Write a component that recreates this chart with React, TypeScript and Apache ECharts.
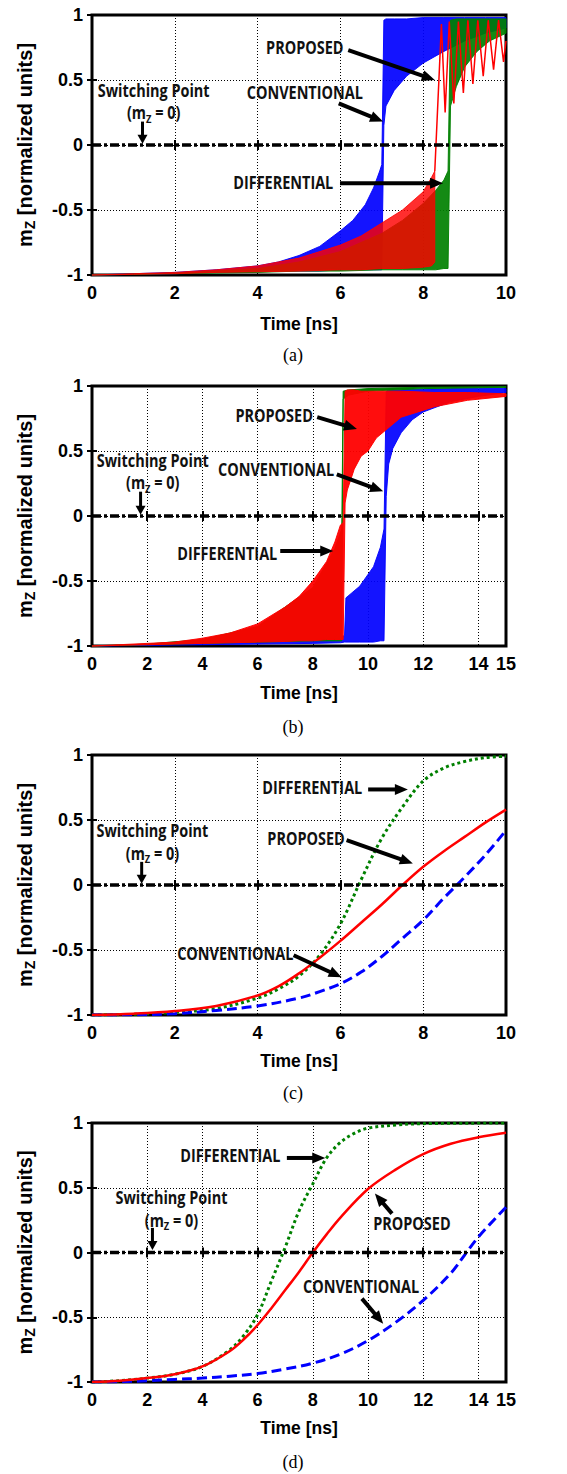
import React, { useEffect, useRef } from 'react';
import * as echarts from 'echarts';

// ---------- axes ----------
const X_MAX = [10, 15, 10, 15];
const X_INTERVAL = 2;
const Y_MIN = -1;
const Y_MAX = 1;
const Y_INTERVAL = 0.5;
const CAPTIONS = ['(a)', '(b)', '(c)', '(d)'];

// ---------- panel (a): oscillating traces, bands as [t, low envelope, high envelope] ----------
const BLUE_A: number[][] = [
  [0, -1, -1], [1, -0.995, -0.99], [2, -0.99, -0.98], [3, -0.98, -0.96], [4, -0.975, -0.93],
  [4.5, -0.97, -0.9], [5, -0.97, -0.85], [5.5, -0.97, -0.78], [6, -0.96, -0.66], [6.3, -0.96, -0.58],
  [6.6, -0.96, -0.46], [6.8, -0.96, -0.33], [6.95, -0.96, -0.2], [7.0, -0.96, -0.15],
  [7.05, 0.15, 0.96], [7.1, 0.3, 0.97], [7.3, 0.42, 0.97], [7.6, 0.53, 0.97], [8, 0.63, 0.98],
  [8.5, 0.72, 0.98], [9, 0.8, 0.98], [9.5, 0.86, 0.98], [10, 0.9, 0.98],
];
const GREEN_A: number[][] = [
  [0, -1, -1], [2, -0.99, -0.985], [3, -0.985, -0.97], [4, -0.98, -0.95], [5, -0.97, -0.9],
  [6, -0.97, -0.82], [7, -0.96, -0.68], [7.5, -0.96, -0.58], [8, -0.96, -0.45], [8.3, -0.96, -0.35],
  [8.5, -0.95, -0.27], [8.6, -0.95, -0.2],
  [8.66, 0.3, 0.96], [8.8, 0.45, 0.97], [9, 0.6, 0.97], [9.3, 0.72, 0.97], [9.6, 0.8, 0.97], [10, 0.86, 0.97],
];
const RED_A: number[][] = [
  [0, -1, -1], [1, -0.995, -0.99], [2, -0.99, -0.98], [3, -0.98, -0.96], [4, -0.975, -0.93],
  [5, -0.97, -0.87], [6, -0.96, -0.77], [6.5, -0.96, -0.7], [7, -0.95, -0.6], [7.5, -0.95, -0.5],
  [8, -0.94, -0.36], [8.2, -0.93, -0.25], [8.28, -0.9, -0.2],
];
const RED_A_AFTER: number[][] = [
  [8.28, -0.2], [8.44, 0.93], [8.53, 0.25], [8.63, 0.95], [8.74, 0.32], [8.85, 0.95], [8.97, 0.4],
  [9.08, 0.96], [9.2, 0.47], [9.32, 0.96], [9.45, 0.53], [9.57, 0.96], [9.7, 0.58], [9.82, 0.96],
  [9.94, 0.64], [10, 0.8],
];

// ---------- panel (b) ----------
const BLUE_B: number[][] = [
  [0, -1, -1], [2, -0.995, -0.99], [4, -0.99, -0.98], [6, -0.985, -0.97], [8, -0.98, -0.95],
  [9, -0.975, -0.93], [9.15, -0.97, -0.92], [9.2, -0.97, -0.63], [9.7, -0.97, -0.54], [10.2, -0.97, -0.39],
  [10.45, -0.96, -0.24], [10.58, -0.96, -0.1],
  [10.66, 0.15, 0.96], [10.75, 0.4, 0.97], [10.9, 0.52, 0.97], [11.2, 0.64, 0.97], [11.6, 0.74, 0.975],
  [12, 0.8, 0.975], [13, 0.88, 0.98], [14, 0.92, 0.98], [15, 0.95, 0.98],
];
const GREEN_B: number[][] = [
  [0, -1, -1], [2, -0.99, -0.985], [4, -0.98, -0.95], [6, -0.97, -0.85], [8, -0.96, -0.55],
  [8.8, -0.96, -0.25], [9.05, -0.96, -0.1],
  [9.1, 0.9, 0.96], [9.3, 0.93, 0.97], [10, 0.96, 0.98], [12, 0.98, 0.99], [15, 0.99, 0.995],
];
const RED_B: number[][] = [
  [0, -1, -1], [1, -0.995, -0.99], [2, -0.99, -0.98], [3, -0.985, -0.97], [4, -0.98, -0.94],
  [5, -0.975, -0.9], [6, -0.97, -0.83], [7, -0.965, -0.7], [7.5, -0.96, -0.62], [8, -0.96, -0.5],
  [8.5, -0.95, -0.35], [8.8, -0.95, -0.2], [9.0, -0.95, -0.07], [9.1, -0.95, -0.05],
  [9.17, 0.1, 0.96], [9.25, 0.2, 0.97], [9.5, 0.36, 0.97], [9.75, 0.46, 0.96], [10, 0.5, 0.96],
  [10.3, 0.6, 0.96], [11.2, 0.76, 0.96], [12.4, 0.84, 0.95], [13.6, 0.89, 0.95], [15, 0.92, 0.94],
];

// ---------- panel (c) ----------
const GREEN_C: number[][] = [
  [0, -1], [1, -0.995], [2, -0.98], [3, -0.95], [4, -0.87], [4.5, -0.8], [5, -0.7], [5.5, -0.54],
  [6, -0.3], [6.5, 0.04], [7, 0.36], [7.5, 0.6], [8, 0.8], [8.5, 0.9], [9, 0.95], [9.5, 0.98], [10, 0.99],
];
const RED_C: number[][] = [
  [0, -1], [1, -0.99], [2, -0.97], [3, -0.93], [4, -0.85], [4.5, -0.78], [5, -0.68], [5.5, -0.56],
  [6, -0.43], [6.5, -0.29], [7, -0.15], [7.5, 0], [8, 0.14], [8.5, 0.26], [9, 0.37], [9.5, 0.48], [10, 0.58],
];
const BLUE_C: number[][] = [
  [0, -1], [1, -0.998], [2, -0.99], [3, -0.965], [4, -0.93], [5, -0.87], [5.5, -0.82], [6, -0.76],
  [6.5, -0.67], [7, -0.55], [7.5, -0.41], [8, -0.27], [8.5, -0.1], [9, 0.06], [9.5, 0.23], [10, 0.42],
];

// ---------- panel (d) ----------
const GREEN_D: number[][] = [
  [0, -1], [1, -0.99], [2, -0.97], [3, -0.94], [4, -0.88], [5, -0.75], [5.5, -0.64], [6, -0.48],
  [6.5, -0.22], [7, 0.04], [7.5, 0.32], [8, 0.53], [8.5, 0.73], [9, 0.85], [9.5, 0.92], [10, 0.96],
  [11, 0.985], [12, 0.995], [15, 1],
];
const RED_D: number[][] = [
  [0, -1], [1, -0.99], [2, -0.97], [3, -0.94], [4, -0.88], [5, -0.76], [5.5, -0.67], [6, -0.56],
  [6.5, -0.43], [7, -0.29], [7.5, -0.15], [8, 0], [8.5, 0.14], [9, 0.27], [10, 0.49], [11, 0.64],
  [12, 0.76], [13, 0.84], [14, 0.89], [15, 0.925],
];
const BLUE_D: number[][] = [
  [0, -1], [1, -0.998], [2, -0.99], [3, -0.98], [4, -0.97], [5, -0.955], [6, -0.935], [7, -0.9],
  [8, -0.855], [9, -0.785], [10, -0.68], [11, -0.54], [12, -0.37], [13, -0.16], [13.5, -0.02],
  [14, 0.12], [15, 0.35],
];

// ---------- annotations (data coordinates) ----------
type Label = { text: string; at: number[] };
const LABELS: Label[][] = [
  [
    { text: 'PROPOSED', at: [5.14, 0.746] },
    { text: 'CONVENTIONAL', at: [5.14, 0.4] },
    { text: 'DIFFERENTIAL', at: [4.62, -0.285] },
  ],
  [
    { text: 'PROPOSED', at: [6.6, 0.77] },
    { text: 'CONVENTIONAL', at: [6.67, 0.36] },
    { text: 'DIFFERENTIAL', at: [4.9, -0.285] },
  ],
  [
    { text: 'DIFFERENTIAL', at: [5.32, 0.746] },
    { text: 'PROPOSED', at: [5.17, 0.36] },
    { text: 'CONVENTIONAL', at: [3.46, -0.53] },
  ],
  [
    { text: 'DIFFERENTIAL', at: [5.01, 0.75] },
    { text: 'PROPOSED', at: [11.59, 0.225] },
    { text: 'CONVENTIONAL', at: [9.75, -0.26] },
  ],
];
const SWITCH_TEXT_AT = [[1.49, 0.42, 0.246], [2.2, 0.43, 0.254], [1.46, 0.42, 0.245], [2.88, 0.426, 0.249]];
const ARROWS: number[][][][] = [
  [[[6.19, 0.73], [8.28, 0.5]], [[5.96, 0.32], [7.03, 0.18]], [[5.99, -0.295], [8.48, -0.295]]],
  [[[8.16, 0.76], [9.6, 0.67]], [[8.87, 0.32], [10.55, 0.19]], [[6.82, -0.27], [8.74, -0.27]]],
  [[[6.67, 0.735], [7.63, 0.735]], [[6.15, 0.345], [7.75, 0.166]], [[4.87, -0.54], [6.03, -0.71]]],
  [[[7.06, 0.73], [8.45, 0.73]], [[10.87, 0.3], [10.25, 0.455]], [[9.78, -0.356], [10.55, -0.55]]],
];
const SWITCH_ARROWS: number[][][] = [
  [[1.22, 0.18], [1.22, 0.01]],
  [[1.76, 0.187], [1.76, 0.01]],
  [[1.2, 0.178], [1.2, 0.01]],
  [[2.19, 0.19], [2.19, 0.02]],
];

// ---------- layout ----------
const W = 567;
const H = 1474;
const GRID_TOPS = [15, 386, 755, 1123];
const GRID_H = [260, 260, 260, 259];
const GRID_LEFT = 92;
const GRID_W = 414;
const NAME_GAPS = [40, 38, 37, 37];
const CAPTION_Y = [355, 727, 1093, 1462];
const CAPTION_X = 293;

const BLUE = '#0000ff';
const RED = '#ff0000';
const GREEN = '#008000';
const SANS = '"Liberation Sans", Arial, sans-serif';
const ANN = '"Open Sans", Lato, sans-serif';
const ANN_SIZE = 17;
const ANN_SCALE = 0.85;

function bandSeries(band: number[][], color: string, idx: number, z: number, opacity = 1) {
  return {
    type: 'custom',
    xAxisIndex: idx,
    yAxisIndex: idx,
    data: band,
    encode: { x: 0, y: [1, 2] },
    silent: true,
    z,
    renderItem: (params: any, api: any) => {
      if (params.dataIndex !== 0) return null;
      const lower = band.map((p) => api.coord([p[0], p[1]]));
      const upper = band.map((p) => api.coord([p[0], p[2]])).reverse();
      return {
        type: 'polygon',
        shape: { points: lower.concat(upper) },
        style: { fill: color, opacity, stroke: color, lineWidth: 1 },
      };
    },
  };
}

function lineSeries(data: number[][], color: string, idx: number, z: number, type: any, width: number, smooth = 0.35) {
  return {
    type: 'line',
    xAxisIndex: idx,
    yAxisIndex: idx,
    data,
    symbol: 'none',
    smooth,
    silent: true,
    z,
    lineStyle: { color, width, type, cap: 'butt' },
  };
}

export default function App() {
  const ref = useRef<HTMLDivElement>(null);
  useEffect(() => {
    if (!ref.current) return;
    const chart = echarts.init(ref.current, undefined, { renderer: 'svg', width: W, height: H });

    const grids = GRID_TOPS.map((top, i) => ({
      left: GRID_LEFT,
      top,
      width: GRID_W,
      height: GRID_H[i],
      show: true,
      borderColor: '#000',
      borderWidth: 3,
      backgroundColor: 'transparent',
    }));

    const tick = { show: true, inside: true, length: 5, lineStyle: { color: '#000', width: 2 } };
    const split = { show: true, lineStyle: { color: '#000', width: 1, type: [1, 2] } };

    const xAxes: any[] = [];
    const yAxes: any[] = [];
    X_MAX.forEach((max, i) => {
      xAxes.push({
        type: 'value',
        gridIndex: i,
        min: 0,
        max,
        interval: X_INTERVAL,
        name: 'Time [ns]',
        nameLocation: 'middle',
        nameGap: NAME_GAPS[i],
        nameTextStyle: { fontFamily: SANS, fontWeight: 'bold', fontSize: 17.5, color: '#000' },
        axisLine: { show: false },
        axisTick: tick,
        axisLabel: { fontFamily: SANS, fontWeight: 'bold', fontSize: 18, color: '#000', margin: 9 },
        splitLine: split,
      });
      xAxes.push({
        type: 'value',
        gridIndex: i,
        position: 'top',
        min: 0,
        max,
        interval: X_INTERVAL,
        axisLine: { show: false },
        axisTick: tick,
        axisLabel: { show: false },
        splitLine: { show: false },
      });
      yAxes.push({
        type: 'value',
        gridIndex: i,
        min: Y_MIN,
        max: Y_MAX,
        interval: Y_INTERVAL,
        name: '{m|m}{s|Z}{m| [normalized units]}',
        nameLocation: 'middle',
        nameRotate: 90,
        nameGap: 55,
        nameTextStyle: {
          fontFamily: SANS,
          fontWeight: 'bold',
          fontSize: 20,
          color: '#000',
          rich: {
            m: { fontFamily: SANS, fontWeight: 'bold', fontSize: 20, color: '#000', lineHeight: 24 },
            s: { fontFamily: SANS, fontWeight: 'bold', fontSize: 14, color: '#000', lineHeight: 14, verticalAlign: 'bottom' },
          },
        },
        axisLine: { show: false },
        axisTick: tick,
        axisLabel: { fontFamily: SANS, fontWeight: 'bold', fontSize: 18, color: '#000', margin: 9 },
        splitLine: split,
      });
      yAxes.push({
        type: 'value',
        gridIndex: i,
        position: 'right',
        min: Y_MIN,
        max: Y_MAX,
        interval: Y_INTERVAL,
        axisLine: { show: false },
        axisTick: tick,
        axisLabel: { show: false },
        splitLine: { show: false },
      });
    });

    // main axes for panel i are xAxis 2i / yAxis 2i
    const ax = (i: number) => ({ xAxisIndex: 2 * i, yAxisIndex: 2 * i });

    const zero = (i: number) => ({
      type: 'line',
      ...ax(i),
      data: [[0, 0], [X_MAX[i], 0]],
      symbol: 'none',
      silent: true,
      z: 20,
      lineStyle: { color: '#000', width: 3.5, type: [9, 3, 3, 3], cap: 'butt' },
    });

    const band = (d: number[][], c: string, i: number, z: number, op: number) => ({ ...bandSeries(d, c, 0, z, op), ...ax(i) });
    const line = (d: number[][], c: string, i: number, z: number, t: any, w: number, s?: number) => ({
      ...lineSeries(d, c, 0, z, t, w, s),
      ...ax(i),
    });

    const series: any[] = [
      band(BLUE_A, BLUE, 0, 2, 0.92),
      band(GREEN_A, GREEN, 0, 3, 0.92),
      band(RED_A, RED, 0, 4, 0.82),
      line(RED_A_AFTER, RED, 0, 5, 'solid', 1.5, 0),
      zero(0),
      band(BLUE_B, BLUE, 1, 2, 0.92),
      band(GREEN_B, GREEN, 1, 3, 1),
      band(RED_B, RED, 1, 4, 0.95),
      zero(1),
      line(GREEN_C, GREEN, 2, 3, [3, 3], 3),
      line(BLUE_C, BLUE, 2, 4, [10, 5], 3),
      line(RED_C, RED, 2, 5, 'solid', 2.5),
      zero(2),
      line(GREEN_D, GREEN, 3, 3, [3, 3], 3),
      line(BLUE_D, BLUE, 3, 4, [10, 5], 3),
      line(RED_D, RED, 3, 5, 'solid', 2.5),
      zero(3),
    ];

    chart.setOption({
      animation: false,
      backgroundColor: '#fff',
      grid: grids,
      xAxis: xAxes,
      yAxis: yAxes,
      series,
    });

    const px = (i: number, p: number[]) => chart.convertToPixel(ax(i) as any, p) as number[];

    const arrow = (a: number[], b: number[], hl: number, hw: number, lw: number) => {
      const dx = b[0] - a[0];
      const dy = b[1] - a[1];
      const len = Math.sqrt(dx * dx + dy * dy) || 1;
      const ux = dx / len;
      const uy = dy / len;
      const bx = b[0] - ux * hl;
      const by = b[1] - uy * hl;
      const nx = -uy;
      const ny = ux;
      return [
        {
          type: 'line',
          shape: { x1: a[0], y1: a[1], x2: bx + ux * 2, y2: by + uy * 2 },
          style: { stroke: '#000', lineWidth: lw },
          z: 100,
        },
        {
          type: 'polygon',
          shape: { points: [[b[0], b[1]], [bx + nx * hw, by + ny * hw], [bx - nx * hw, by - ny * hw]] },
          style: { fill: '#000' },
          z: 100,
        },
      ];
    };

    const annText = (x: number, y: number, style: any) => ({
      type: 'text',
      x,
      y,
      scaleX: ANN_SCALE,
      z: 100,
      style: { align: 'center', verticalAlign: 'middle', ...style },
    });

    const graphics: any[] = [];
    for (let i = 0; i < 4; i++) {
      LABELS[i].forEach((l) => {
        const p = px(i, l.at);
        graphics.push(annText(p[0], p[1], { text: l.text, fontFamily: ANN, fontWeight: 'bold', fontSize: ANN_SIZE, fill: '#111' }));
      });
      const s = SWITCH_TEXT_AT[i];
      const p1 = px(i, [s[0], s[1]]);
      const p2 = px(i, [s[0], s[2]]);
      graphics.push(annText(p1[0], p1[1], { text: 'Switching Point', fontFamily: ANN, fontWeight: 'bold', fontSize: ANN_SIZE, fill: '#111' }));
      graphics.push(
        annText(p2[0], p2[1], {
          text: '{b|(m}{s|Z}{b| = 0)}',
          rich: {
            b: { fontFamily: ANN, fontWeight: 'bold', fontSize: ANN_SIZE, fill: '#111', lineHeight: 22 },
            s: { fontFamily: ANN, fontWeight: 'bold', fontSize: 11, fill: '#111', lineHeight: 11, verticalAlign: 'bottom' },
          },
        })
      );
      ARROWS[i].forEach((ar) => {
        graphics.push(...arrow(px(i, ar[0]), px(i, ar[1]), 13, 5.5, 4));
      });
      const sa = SWITCH_ARROWS[i];
      graphics.push(...arrow(px(i, sa[0]), px(i, sa[1]), 9, 5, 3));
      graphics.push({
        type: 'text',
        x: CAPTION_X,
        y: CAPTION_Y[i],
        z: 100,
        style: { text: CAPTIONS[i], fontFamily: '"Liberation Serif", "Times New Roman", serif', fontSize: 18, fill: '#000', align: 'center', verticalAlign: 'middle' },
      });
    }
    chart.setOption({ graphic: graphics });

    return () => chart.dispose();
  }, []);

  return <div ref={ref} style={{ position: 'absolute', left: 0, top: 0, width: W, height: H, background: '#fff' }} />;
}
